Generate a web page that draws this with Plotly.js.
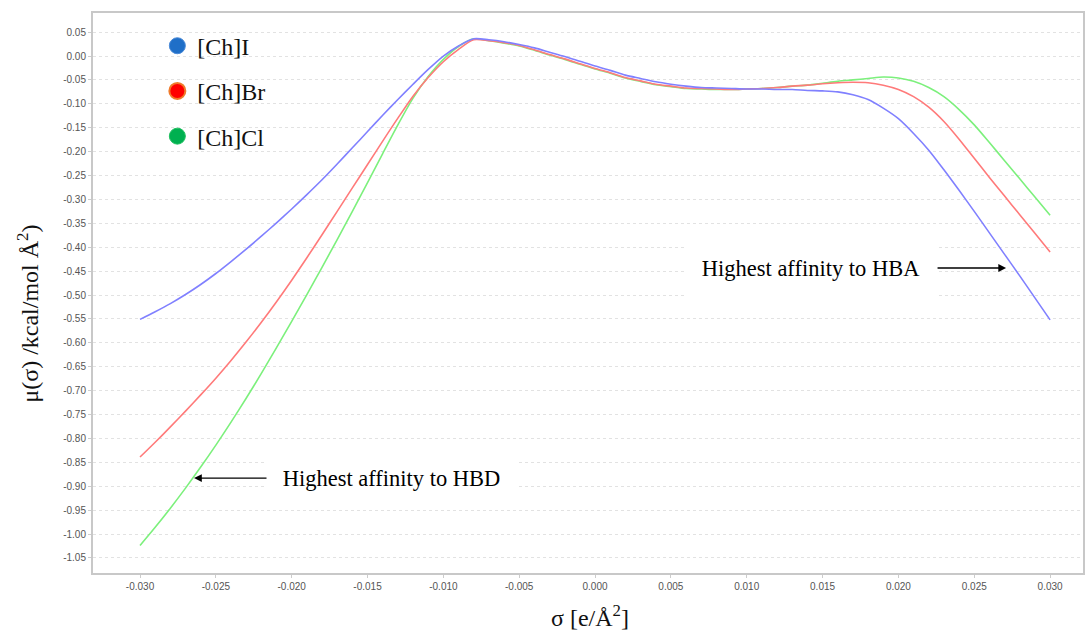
<!DOCTYPE html>
<html>
<head>
<meta charset="utf-8">
<script src="https://cdn.plot.ly/plotly-3.0.1.min.js"></script>
<style>html,body{margin:0;padding:0;background:#fff}#chart{width:1085px;height:634px}</style>
</head>
<body>
<div id="chart"></div>
<script>
// sigma grid [e/Å²]
const sigma = [-0.030,-0.029,-0.028,-0.027,-0.026,-0.025,-0.024,-0.023,-0.022,-0.021,
  -0.020,-0.019,-0.018,-0.017,-0.016,-0.015,-0.014,-0.013,-0.012,-0.011,
  -0.010,-0.009,-0.008,-0.007,-0.006,-0.005,-0.004,-0.003,-0.002,-0.001,
  0.000,0.001,0.002,0.003,0.004,0.005,0.006,0.007,0.008,0.009,
  0.010,0.011,0.012,0.013,0.014,0.015,0.016,0.017,0.018,0.019,
  0.020,0.021,0.022,0.023,0.024,0.025,0.026,0.027,0.028,0.029,0.030];

// μ(σ) kcal/mol Å² for [Ch]I
const muChI = [-0.551,-0.535,-0.518,-0.499,-0.478,-0.455,-0.430,-0.404,-0.377,-0.349,
  -0.320,-0.290,-0.259,-0.226,-0.192,-0.158,-0.124,-0.091,-0.059,-0.028,
  0.000,0.021,0.036,0.034,0.030,0.024,0.017,0.008,-0.001,-0.011,
  -0.021,-0.030,-0.040,-0.047,-0.054,-0.059,-0.063,-0.066,-0.067,-0.068,
  -0.069,-0.069,-0.070,-0.070,-0.072,-0.073,-0.075,-0.081,-0.091,-0.109,
  -0.131,-0.162,-0.197,-0.238,-0.281,-0.325,-0.370,-0.415,-0.460,-0.506,-0.552];

// [Ch]Br
const muChBr = [-0.839,-0.808,-0.776,-0.743,-0.709,-0.674,-0.637,-0.598,-0.557,-0.514,
  -0.469,-0.422,-0.374,-0.325,-0.276,-0.227,-0.178,-0.130,-0.084,-0.045,
  -0.012,0.014,0.034,0.032,0.028,0.022,0.013,0.003,-0.006,-0.016,
  -0.026,-0.035,-0.045,-0.052,-0.059,-0.063,-0.067,-0.068,-0.069,-0.070,
  -0.069,-0.068,-0.066,-0.063,-0.061,-0.058,-0.056,-0.055,-0.056,-0.061,
  -0.070,-0.085,-0.107,-0.137,-0.174,-0.214,-0.254,-0.293,-0.332,-0.371,-0.410];

// [Ch]Cl
const muChCl = [-1.024,-0.986,-0.946,-0.904,-0.860,-0.814,-0.766,-0.716,-0.664,-0.610,
  -0.555,-0.499,-0.442,-0.384,-0.325,-0.265,-0.204,-0.144,-0.088,-0.043,
  -0.007,0.020,0.036,0.032,0.027,0.021,0.012,0.002,-0.007,-0.017,
  -0.027,-0.036,-0.046,-0.053,-0.060,-0.064,-0.068,-0.069,-0.070,-0.070,
  -0.069,-0.068,-0.066,-0.063,-0.061,-0.057,-0.053,-0.050,-0.047,-0.044,
  -0.046,-0.053,-0.066,-0.085,-0.112,-0.144,-0.181,-0.219,-0.257,-0.295,-0.333];

const seriesNames = ['[Ch]I', '[Ch]Br', '[Ch]Cl'];

// tick values / labels
const xTickVals = [-0.030,-0.025,-0.020,-0.015,-0.010,-0.005,0.000,0.005,0.010,0.015,0.020,0.025,0.030];
const yTickVals = [0.05,0.00,-0.05,-0.10,-0.15,-0.20,-0.25,-0.30,-0.35,-0.40,-0.45,-0.50,-0.55,-0.60,
  -0.65,-0.70,-0.75,-0.80,-0.85,-0.90,-0.95,-1.00,-1.05];
const xTickText = xTickVals.map(v => v.toFixed(3));
const yTickText = yTickVals.map(v => v.toFixed(2));

// annotation anchor points
const hbdPoint = {x: -0.02644, y: -0.883, tx: -0.01342};
const hbaPoint = {x: 0.0271, y: -0.4435, tx: 0.01424};

const lineW = 1.6;
const lineShape = {width: lineW, shape: 'spline', smoothing: 0.8};
const traces = [
  {x: sigma, y: muChCl, mode: 'lines', line: Object.assign({color: '#7cf07c'}, lineShape), showlegend: false, hoverinfo: 'skip'},
  {x: sigma, y: muChBr, mode: 'lines', line: Object.assign({color: '#ff7a7a'}, lineShape), showlegend: false, hoverinfo: 'skip'},
  {x: sigma, y: muChI, mode: 'lines', line: Object.assign({color: '#8080ff'}, lineShape), showlegend: false, hoverinfo: 'skip'},
  // legend entries
  {x: [null], y: [null], mode: 'markers', name: seriesNames[0], legendgroup: 'a',
   marker: {color: '#1f6fc8', size: 18, line: {color: '#4a8ad8', width: 1}}},
  {x: [null], y: [null], mode: 'markers', name: seriesNames[1], legendgroup: 'b',
   marker: {color: '#ff0000', size: 18, line: {color: '#f07a2a', width: 2}}},
  {x: [null], y: [null], mode: 'markers', name: seriesNames[2], legendgroup: 'c',
   marker: {color: '#00b050', size: 18, line: {color: '#20c060', width: 1}}}
];

const serif = 'Liberation Serif, Times New Roman, serif';
const tickFont = {family: 'Liberation Sans, Arial, sans-serif', size: 10, color: '#555'};

const layout = {
  width: 1085, height: 634,
  margin: {l: 93, r: 2, t: 13, b: 61},
  paper_bgcolor: '#fff', plot_bgcolor: '#fff',
  showlegend: true,
  legend: {
    x: 0.065, y: 0.981, xanchor: 'left', yanchor: 'top',
    bgcolor: 'rgba(255,255,255,0)',
    font: {family: serif, size: 24, color: '#111'},
    tracegroupgap: 11, itemsizing: 'trace'
  },
  xaxis: {
    range: [-0.0331, 0.03217], tickvals: xTickVals, ticktext: xTickText,
    tickfont: tickFont, showgrid: false, zeroline: false,
    showline: true, mirror: true, linecolor: '#c8c8c8', linewidth: 2,
    ticks: 'outside', ticklen: 3, tickcolor: '#ccc'
  },
  yaxis: {
    range: [-1.0816, 0.090], tickvals: yTickVals, ticktext: yTickText,
    tickfont: tickFont, showgrid: true, gridcolor: '#e2e2e2', griddash: 'dot', gridwidth: 1,
    zeroline: false, showline: true, mirror: true, linecolor: '#c8c8c8', linewidth: 2,
    ticks: 'outside', ticklen: 3, tickcolor: '#ccc'
  },
  shapes: [
    {type: 'rect', xref: 'paper', yref: 'paper', layer: 'between',
     x0: 0.026, x1: 0.202, y0: 0.737, y1: 0.99, fillcolor: '#fff', line: {width: 0}}
  ],
  annotations: [
    {x: hbdPoint.x, y: hbdPoint.y, ax: hbdPoint.tx, ay: hbdPoint.y, xref: 'x', yref: 'y', axref: 'x', ayref: 'y',
     text: 'Highest affinity to HBD', font: {family: serif, size: 22.5, color: '#000'},
     bgcolor: '#fff', width: 249, height: 58, borderpad: 0,
     showarrow: true, arrowhead: 2, arrowsize: 1.2, arrowwidth: 1.3, arrowcolor: '#000', standoff: 0},
    {x: hbaPoint.x, y: hbaPoint.y, ax: hbaPoint.tx, ay: hbaPoint.y, xref: 'x', yref: 'y', axref: 'x', ayref: 'y',
     text: 'Highest affinity to HBA', font: {family: serif, size: 22.5, color: '#000'},
     bgcolor: '#fff', width: 252, height: 58, borderpad: 0,
     showarrow: true, arrowhead: 2, arrowsize: 1.2, arrowwidth: 1.3, arrowcolor: '#000', standoff: 0},
    {xref: 'paper', yref: 'paper', x: -0.066, y: 0.4625, xanchor: 'center', yanchor: 'middle',
     textangle: -90, showarrow: false,
     text: 'μ(σ) /kcal/mol Å<sup>2</sup>)', font: {family: serif, size: 24, color: '#111'}},
    {xref: 'paper', yref: 'paper', x: 0.502, y: -0.077, xanchor: 'center', yanchor: 'middle',
     showarrow: false,
     text: 'σ [e/Å<sup>2</sup>]', font: {family: serif, size: 24, color: '#111'}}
  ]
};

Plotly.newPlot('chart', traces, layout, {staticPlot: true, displayModeBar: false});
</script>
</body>
</html>
